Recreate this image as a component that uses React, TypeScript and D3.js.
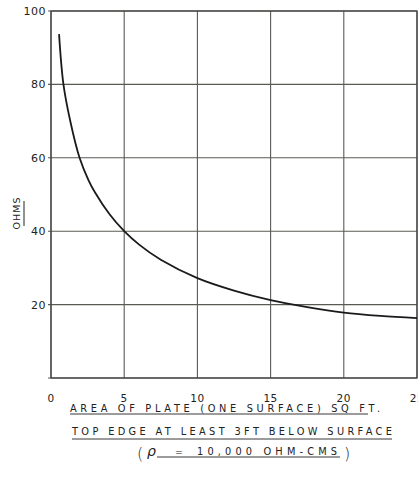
import React, { useEffect, useRef } from 'react';
import * as d3 from 'd3';

// values
const areaSqFt = [0.55, 0.85, 1.3, 1.95, 2.55, 3, 4, 5, 6, 7.5, 10, 12.5, 15, 17.5, 20, 22.5, 25];
const ohms = [93.7, 80, 70.3, 60, 54, 50.6, 44.6, 40, 36.4, 32.2, 27.2, 23.8, 21.2, 19.3, 17.8, 16.9, 16.3];

const xTicks = [0, 5, 10, 15, 20, 25];
const yTicks = [20, 40, 60, 80, 100];

const xTitle = 'AREA OF PLATE (ONE SURFACE) SQ FT.';
const subTitle = 'TOP EDGE AT LEAST 3FT BELOW SURFACE';
const yTitle = 'OHMS';

const App = () => {
    const ref = useRef<SVGSVGElement>(null);

    const width = 418;
    const height = 477;
    // plot box
    const x0 = 51;
    const x1 = 417;
    const y0 = 378;
    const y1 = 11;
    const font = "'DejaVu Sans', sans-serif";
    const ink = '#222';
    const grid = '#5a5a55';

    useEffect(() => {
        const svg = d3.select(ref.current);
        svg.selectAll('*').remove();

        const xScale = d3.scaleLinear().domain([0, 25]).range([x0, x1]);
        const yScale = d3.scaleLinear().domain([0, 100]).range([y0, y1]);

        const g = svg.append('g');

        // grid
        g.selectAll('.vgrid')
            .data(xTicks)
            .enter().append('line')
            .attr('x1', d => xScale(d))
            .attr('x2', d => xScale(d))
            .attr('y1', y1)
            .attr('y2', y0)
            .attr('stroke', grid)
            .attr('stroke-width', 1.1);

        g.selectAll('.hgrid')
            .data([0, ...yTicks])
            .enter().append('line')
            .attr('x1', x0 - 3)
            .attr('x2', x1)
            .attr('y1', d => yScale(d))
            .attr('y2', d => yScale(d))
            .attr('stroke', grid)
            .attr('stroke-width', 1.1);

        // border darker
        g.append('rect')
            .attr('x', x0)
            .attr('y', y1)
            .attr('width', x1 - x0)
            .attr('height', y0 - y1)
            .attr('fill', 'none')
            .attr('stroke', '#444')
            .attr('stroke-width', 1.3);

        // tick labels
        g.selectAll('.ylab')
            .data(yTicks)
            .enter().append('text')
            .attr('x', 46)
            .attr('y', d => yScale(d) + 4)
            .attr('text-anchor', 'end')
            .attr('font-family', font)
            .attr('font-size', 11)
            .attr('letter-spacing', 0.5)
            .attr('fill', ink)
            .text(d => d);

        g.selectAll('.xlab')
            .data(xTicks)
            .enter().append('text')
            .attr('x', d => xScale(d))
            .attr('y', 401.5)
            .attr('text-anchor', 'middle')
            .attr('font-family', font)
            .attr('font-size', 10.5)
            .attr('letter-spacing', 0.5)
            .attr('fill', ink)
            .text(d => d);

        // y title
        g.append('text')
            .attr('transform', 'translate(20,213) rotate(-90)')
            .attr('text-anchor', 'middle')
            .attr('font-family', font)
            .attr('font-size', 9.5)
            .attr('letter-spacing', 1)
            .attr('fill', ink)
            .text(yTitle);
        g.append('line')
            .attr('x1', 24).attr('x2', 24)
            .attr('y1', 201).attr('y2', 226)
            .attr('stroke', ink).attr('stroke-width', 1);

        // x titles
        g.append('text')
            .attr('x', 70)
            .attr('y', 411.5)
            .attr('font-family', font)
            .attr('font-size', 9.8)
            .attr('textLength', 310)
            .attr('lengthAdjust', 'spacing')
            .attr('fill', ink)
            .text(xTitle);
        g.append('line')
            .attr('x1', 70).attr('x2', 368)
            .attr('y1', 414).attr('y2', 414)
            .attr('stroke', ink).attr('stroke-width', 0.9);

        g.append('text')
            .attr('x', 72)
            .attr('y', 435)
            .attr('font-family', font)
            .attr('font-size', 9.8)
            .attr('textLength', 320)
            .attr('lengthAdjust', 'spacing')
            .attr('fill', ink)
            .text(subTitle);
        g.append('line')
            .attr('x1', 72).attr('x2', 392)
            .attr('y1', 439).attr('y2', 439)
            .attr('stroke', ink).attr('stroke-width', 0.9);

        // rho line
        g.append('text')
            .attr('x', 137).attr('y', 459)
            .attr('font-family', font)
            .attr('font-size', 16)
            .attr('font-weight', 200)
            .attr('fill', ink)
            .text('(');
        g.append('text')
            .attr('x', 147).attr('y', 456)
            .attr('font-family', font)
            .attr('font-size', 14)
            .attr('font-style', 'italic')
            .attr('fill', ink)
            .text('ρ');
        g.append('text')
            .attr('x', 175).attr('y', 455)
            .attr('font-family', font)
            .attr('font-size', 9.5)
            .attr('fill', ink)
            .text('=');
        g.append('text')
            .attr('x', 197).attr('y', 455)
            .attr('font-family', font)
            .attr('font-size', 9.8)
            .attr('textLength', 140)
            .attr('lengthAdjust', 'spacing')
            .attr('fill', ink)
            .text('10,000 OHM-CMS');
        g.append('line')
            .attr('x1', 157).attr('x2', 340)
            .attr('y1', 457).attr('y2', 457)
            .attr('stroke', ink).attr('stroke-width', 0.9);
        g.append('text')
            .attr('x', 344).attr('y', 459)
            .attr('font-family', font)
            .attr('font-size', 16)
            .attr('font-weight', 200)
            .attr('fill', ink)
            .text(')');

        // curve
        const line = d3.line<number>()
            .x((d, i) => xScale(areaSqFt[i]))
            .y(d => yScale(d))
            .curve(d3.curveCatmullRom.alpha(0.5));

        g.append('path')
            .datum(ohms)
            .attr('d', line)
            .attr('fill', 'none')
            .attr('stroke', '#1a1a1a')
            .attr('stroke-width', 1.8);
    }, []);

    return (
        <svg
            ref={ref}
            width={width}
            height={height}
            style={{ position: 'absolute', left: 0, top: 0, background: '#fff' }}
        ></svg>
    );
};

export default App;
